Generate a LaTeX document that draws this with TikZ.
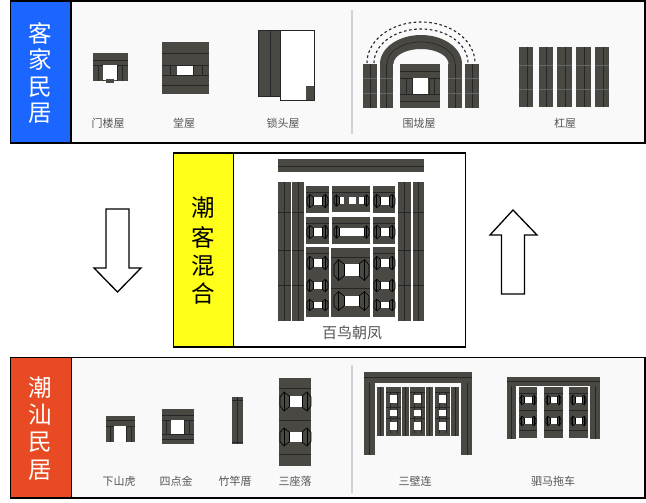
\documentclass[tikz,border=0pt]{standalone}
\usepackage{fontspec}
\setmainfont{Noto Sans CJK SC}
\definecolor{darkblock}{HTML}{4A4843}
\definecolor{paneltint}{HTML}{F9F9F9}
\definecolor{hakkablue}{HTML}{1A66FF}
\definecolor{teochew}{HTML}{E84A23}
\definecolor{mixyellow}{HTML}{FFFF1A}
\definecolor{labelgray}{HTML}{555555}
\definecolor{rulegray}{HTML}{D2D2D2}
\tikzset{
  framebox/.style={draw=black,line width=1.2pt},
  panelfill/.style={fill=paneltint},
  titletext/.style={font=\fontsize{23.5}{23.5}\selectfont,inner sep=0pt},
  smalllabel/.style={font=\fontsize{11}{11}\selectfont,text=labelgray,inner sep=0pt},
  blockline/.style={draw=black!85,line width=0.6pt},
  faintline/.style={draw=black!60,line width=0.3pt},
  wingline/.style={draw=black,line width=0.65pt},
  bigarrow/.style={draw=black,line width=1.3pt,fill=white,line join=miter},
  sep/.style={draw=rulegray,line width=2.2pt}
}
\newcommand{\zblk}[4]{\fill[darkblock] (#1,#2) rectangle (#3,#4);}
\newcommand{\zhl}[3]{\draw[blockline] (#1,#3) -- (#2,#3);}
\newcommand{\zvl}[3]{\draw[blockline] (#1,#2) -- (#1,#3);}
\newcommand{\zfl}[3]{\draw[faintline] (#1,#3) -- (#2,#3);}
\newcommand{\zhole}[4]{\fill[white] (#1,#2) rectangle (#3,#4);}
% hole with hexagonal side wings: x1 y1 x2 y2 d
\newcommand{\zcourt}[5]{%
  \pgfmathsetmacro{\zmid}{(#2+#4)/2}%
  \pgfmathsetmacro{\zlo}{#1-#5}\pgfmathsetmacro{\zlb}{#1-0.55*#5}%
  \pgfmathsetmacro{\zro}{#3+#5}\pgfmathsetmacro{\zrb}{#3+0.55*#5}%
  \pgfmathsetmacro{\ztop}{#2-0.45*#5}\pgfmathsetmacro{\zbot}{#4+0.45*#5}%
  \pgfmathsetmacro{\zua}{\zmid-0.5*#5}\pgfmathsetmacro{\zub}{\zmid+0.5*#5}%
  \draw[wingline] (#1,#2) -- (\zlb,\ztop) -- (\zlo,\zua) -- (\zlo,\zub) -- (\zlb,\zbot) -- (#1,#4);
  \draw[wingline] (\zlb,\ztop) -- (\zlb,\zbot);
  \draw[wingline] (#3,#2) -- (\zrb,\ztop) -- (\zro,\zua) -- (\zro,\zub) -- (\zrb,\zbot) -- (#3,#4);
  \draw[wingline] (\zrb,\ztop) -- (\zrb,\zbot);
  \fill[white] (#1,#2) rectangle (#3,#4);
  \draw[wingline] (#1,#2) -- (#1,#4) (#3,#2) -- (#3,#4);
}
\begin{document}
\begin{tikzpicture}[x=1pt,y=-1pt]
\useasboundingbox (0,0) rectangle (646,503);
\fill[white] (0,0) rectangle (646,503);

% ===== top panel =====
\fill[panelfill] (71,1) rectangle (645,143);
\fill[hakkablue] (11,1) rectangle (71,143);
\draw[framebox] (10.5,1) rectangle (645,143);
\draw[framebox] (71,1) -- (71,143);
\node[titletext,text=white] (k1) at (40,33) {客};
\node[titletext,text=white] (k2) at (40,59.5) {家};
\node[titletext,text=white] (k3) at (40,87) {民};
\node[titletext,text=white] (k4) at (40,113) {居};

% menlou
\zblk{93}{53}{128}{81}
\zhl{93}{128}{60}\zhl{93}{128}{65}
\zvl{98}{65}{81}\zvl{103}{65}{81}\zvl{117}{65}{81}\zvl{122}{65}{81}
\zhole{103}{65}{117}{80}
\zblk{106}{79}{114}{83}
\node[smalllabel] (l1) at (108,123) {门楼屋};
% tang
\zblk{162}{42}{209}{94}
\zhl{162}{209}{53}\zhl{162}{209}{65}\zhl{162}{209}{75}\zhl{162}{209}{85}
\zvl{170}{65}{75}\zvl{177}{65}{75}\zvl{193}{65}{75}\zvl{202}{65}{75}
\zhole{177}{66}{193}{75}
\node[smalllabel] (l2) at (184,123) {堂屋};
% suotou
\fill[white] (280,30) rectangle (314,100);
\draw[black!85,line width=0.6pt] (280,30) rectangle (314,100);
\zblk{258}{30}{280}{96}
\draw[blockline] (258,30) rectangle (280,96);
\zvl{270}{30}{96}
\zblk{306}{86}{314}{100}
\node[smalllabel] (l3) at (283,123) {锁头屋};

\draw[sep] (352,10) -- (352,134);

% weilong
\fill[darkblock] plot[domain=180:0,samples=50] ({421+41*cos(\x)},{64-29*sin(\x)})
  -- plot[domain=0:180,samples=50] ({421+27.5*cos(\x)},{64-15*sin(\x)}) -- cycle;
\draw[blockline] plot[domain=180:0,samples=50] ({421+34*cos(\x)},{64-22*sin(\x)});
\draw[black!85,line width=1.1pt,dash pattern=on 2.6pt off 2.6pt] plot[domain=180:0,samples=50] ({421+54*cos(\x)},{63-41*sin(\x)});
\draw[black!85,line width=1.1pt,dash pattern=on 2.6pt off 2.6pt] plot[domain=180:0,samples=50] ({421+47*cos(\x)},{63-34*sin(\x)});
\zblk{363}{64}{377}{108}\zvl{370}{64}{108}\zfl{363}{377}{78}\zfl{363}{377}{93}
\zblk{380}{64}{393}{108}\zvl{386.5}{64}{108}\zfl{380}{393}{78}\zfl{380}{393}{93}
\zblk{448}{64}{462}{108}\zvl{455}{64}{108}\zfl{448}{462}{78}\zfl{448}{462}{93}
\zblk{465}{64}{479}{108}\zvl{472}{64}{108}\zfl{465}{479}{78}\zfl{465}{479}{93}
\zblk{400}{64}{440}{108}
\zhl{400}{440}{71}\zhl{400}{440}{78}\zhl{400}{440}{94}\zhl{400}{440}{101}
\zvl{406}{78}{94}\zvl{412}{78}{94}\zvl{429}{78}{94}\zvl{434}{78}{94}
\zhole{413}{78}{428}{94}
\node[smalllabel] (l4) at (419,123) {围垅屋};
% gang
\zblk{519}{47}{533}{107}\zvl{527}{47}{107}\zfl{519}{533}{65}\zfl{519}{533}{89}
\zblk{539}{47}{553}{107}\zvl{546}{47}{107}\zfl{539}{553}{65}\zfl{539}{553}{89}
\zblk{557}{47}{572}{107}\zvl{565}{47}{107}\zfl{557}{572}{65}\zfl{557}{572}{89}
\zblk{576}{47}{591}{107}\zvl{584}{47}{107}\zfl{576}{591}{65}\zfl{576}{591}{89}
\zblk{595}{47}{609}{107}\zvl{603}{47}{107}\zfl{595}{609}{65}\zfl{595}{609}{89}
\node[smalllabel] (l5) at (565,123) {杠屋};

% ===== centre panel =====
\fill[mixyellow] (174,153) rectangle (233,347);
\draw[framebox] (173.5,153) rectangle (465.5,347);
\draw[line width=0.9pt] (233.5,153) -- (233.5,347);
\node[titletext] (m1) at (203,208) {潮};
\node[titletext] (m2) at (203,237) {客};
\node[titletext] (m3) at (203,266) {混};
\node[titletext] (m4) at (203,294) {合};

\zblk{278}{159}{424}{172}\zhl{278}{424}{166}
\foreach \xa/\xb/\xc in {278/291/284,292/304/298,398/411/404,413/424/418}{
  \zblk{\xa}{182}{\xb}{321}\zvl{\xc}{182}{321}
  \zhl{\xa}{\xb}{212}\zhl{\xa}{\xb}{250}\zhl{\xa}{\xb}{285}
}
% side columns
\foreach \xa/\xb/\hx in {306/329/313,373/395/380}{
  \zblk{\xa}{186}{\xb}{213}\zblk{\xa}{217}{\xb}{244}\zblk{\xa}{247}{\xb}{317}
  \zhl{\xa}{\xb}{192}\zhl{\xa}{\xb}{223}\zhl{\xa}{\xb}{253}
  \pgfmathsetmacro{\hy}{\hx+9}
  \zcourt{\hx}{197}{\hy}{205}{6}
  \zcourt{\hx}{228}{\hy}{236}{6}
  \zcourt{\hx}{259}{\hy}{267}{6}
  \zcourt{\hx}{282}{\hy}{289}{6}
  \zcourt{\hx}{302}{\hy}{308}{6}
}
% middle column
\zblk{332}{186}{370}{212}\zblk{332}{217}{370}{244}\zblk{331}{248}{370}{317}
\zhl{332}{370}{192}\zhl{332}{370}{223}\zhl{331}{370}{257}\zhl{331}{370}{288}
\zcourt{339}{197}{364}{204}{5}
\fill[darkblock] (344,197) rectangle (349,204);
\fill[darkblock] (356,197) rectangle (359,204);
\zcourt{339}{228}{364}{236}{5}
\zcourt{344}{264}{359}{276}{10}
\zcourt{344}{296}{359}{306}{10}
\node[font=\fontsize{15}{15}\selectfont,text=labelgray,inner sep=0pt] (l6) at (352,333) {百鸟朝凤};

% block arrows
\draw[bigarrow] (106,209) -- (129,209) -- (129,268) -- (141,268) -- (117.5,292) -- (94,268) -- (106,268) -- cycle;
\draw[bigarrow] (501.5,294) -- (524.5,294) -- (524.5,235) -- (537,235) -- (513,210) -- (490,235) -- (501.5,235) -- cycle;

% ===== bottom panel =====
\fill[panelfill] (71,357) rectangle (645,498);
\fill[teochew] (11,357) rectangle (71,498);
\draw[framebox] (10.5,357.5) rectangle (645,498);
\draw[line width=0.9pt] (71,357) -- (71,498);
\node[titletext,text=white] (t1) at (40.5,388) {潮};
\node[titletext,text=white] (t2) at (40.5,415) {汕};
\node[titletext,text=white] (t3) at (40.5,442) {民};
\node[titletext,text=white] (t4) at (40.5,470) {居};

% xiashanhu
\zblk{106}{416}{135}{442}
\zhl{106}{135}{420}\zhl{106}{135}{426}
\zvl{110}{426}{442}\zvl{114}{426}{442}\zvl{126}{426}{442}\zvl{131}{426}{442}
\zhole{114}{426}{126}{442}
\node[smalllabel] (b1) at (119,481) {下山虎};
% sidianjin
\zblk{162}{409}{194}{444}
\zhl{162}{194}{415}\zhl{162}{194}{420}\zhl{162}{194}{434}\zhl{162}{194}{439}
\zvl{166}{420}{434}\zvl{171}{420}{434}\zvl{184}{420}{434}\zvl{189}{420}{434}
\zhole{171}{420}{184}{434}
\node[smalllabel] (b2) at (176,481) {四点金};
% zhugan
\zblk{232}{397}{243}{444}\zvl{237.5}{397}{444}
\zhl{232}{243}{400}\zhl{232}{243}{442}
\node[smalllabel] (b3) at (235,481) {竹竿厝};
% sanzuoluo
\zblk{279}{378}{311}{466}
\zhl{279}{311}{388}\zhl{279}{311}{420}\zhl{279}{311}{454}
\zcourt{289}{396}{302}{407}{9}
\zcourt{289}{432}{302}{442}{9}
\node[smalllabel] (b4) at (295,481) {三座落};

\draw[sep] (352,365) -- (352,493);

% sanbilian
\zblk{364}{372}{472}{383}\zhl{364}{472}{377}
\zblk{364}{383}{375}{455}\zvl{369}{383}{455}
\zblk{461}{383}{472}{455}\zvl{467}{383}{455}
\foreach \xa/\xb/\xc in {377/384/380.5,402/409/405.5,426/433/429.5,451/459/455}{
  \zblk{\xa}{387}{\xb}{436}\zvl{\xc}{387}{436}
}
\foreach \xa/\xb/\ha/\hb in {386/401/390/397,410/425/414/421,435/450/439/446}{
  \zblk{\xa}{387}{\xb}{436}
  \zhl{\xa}{\xb}{392}\zhl{\xa}{\xb}{407}\zhl{\xa}{\xb}{418}
  \zvl{\ha}{392}{433}\zvl{\hb}{392}{433}
  \zhole{\ha}{395}{\hb}{403}
  \zhole{\ha}{410}{\hb}{416}
  \zhole{\ha}{422}{\hb}{430}
}
\node[smalllabel] (b5) at (415,481) {三壁连};
% simatuoche
\zblk{507}{377}{600}{386}\zhl{507}{600}{381.5}
\zblk{507}{386}{516}{439}\zvl{511.5}{386}{439}
\zblk{590}{386}{600}{439}\zvl{595}{386}{439}
\foreach \xa/\xb/\ha/\hb in {519/537/524/532,544/563/550/557,569/588/575/582}{
  \zblk{\xa}{387}{\xb}{438}
  \zhl{\xa}{\xb}{393}\zhl{\xa}{\xb}{410}\zhl{\xa}{\xb}{430}
  \zcourt{\ha}{397}{\hb}{403}{4}
  \zcourt{\ha}{418}{\hb}{424}{4}
}
\node[smalllabel] (b6) at (553,481) {驷马拖车};
\end{tikzpicture}
\end{document}
